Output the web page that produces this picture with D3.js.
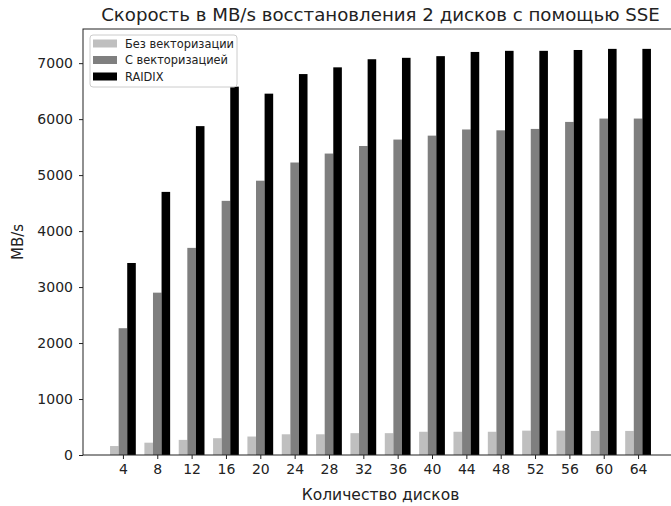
<!DOCTYPE html>
<html>
<head>
<meta charset="utf-8">
<script src="https://cdn.jsdelivr.net/npm/d3@7"></script>
<style>
  html, body { margin: 0; padding: 0; background: #fff; }
  svg { display: block; }
  text { font-family: "DejaVu Sans", sans-serif; fill: #222; }
</style>
</head>
<body>
<svg id="chart" width="671" height="506"></svg>
<script>
// Disk counts on the x axis
const disks = [4, 8, 12, 16, 20, 24, 28, 32, 36, 40, 44, 48, 52, 56, 60, 64];
// Recovery speed, MB/s
const noVector = [160, 220, 270, 300, 330, 370, 370, 390, 390, 415, 415, 415, 435, 435, 430, 430];
const withVector = [2265, 2900, 3700, 4540, 4900, 5225, 5385, 5520, 5635, 5705, 5815, 5800, 5825, 5950, 6010, 6010];
const raidix = [3430, 4700, 5875, 6580, 6455, 6805, 6925, 7070, 7095, 7125, 7200, 7220, 7220, 7235, 7255, 7255];
const yTicks = [0, 1000, 2000, 3000, 4000, 5000, 6000, 7000];

const seriesNames = ["Без векторизации", "С векторизацией", "RAIDIX"];
const seriesColors = ["#bfbfbf", "#7f7f7f", "#000000"];
const seriesValues = [noVector, withVector, raidix];
const seriesOffsets = [-1, 0, 1];

const titleText = "Скорость в MB/s восстановления 2 дисков с помощью SSE";
const xLabel = "Количество дисков";
const yLabel = "MB/s";

const svg = d3.select("#chart");
const plotLeft = 83, plotRight = 678, plotTop = 29, plotBottom = 455;

const x = d3.scaleLinear().domain([-0.65, 68.65]).range([plotLeft, plotRight]);
const y = d3.scaleLinear().domain([0, 7610]).range([plotBottom, plotTop]);

// bars: three per disk count, each one unit wide
seriesValues.forEach((vals, si) => {
  svg.append("g")
    .selectAll("rect")
    .data(disks.map((d, i) => ({ d, v: vals[i] })))
    .join("rect")
    .attr("x", p => x(p.d + seriesOffsets[si] - 0.5))
    .attr("width", p => x(p.d + seriesOffsets[si] + 0.5) - x(p.d + seriesOffsets[si] - 0.5))
    .attr("y", p => y(p.v))
    .attr("height", p => y(0) - y(p.v))
    .attr("fill", seriesColors[si]);
});

// frame
svg.append("rect")
  .attr("x", plotLeft).attr("y", plotTop)
  .attr("width", plotRight - plotLeft).attr("height", plotBottom - plotTop)
  .attr("fill", "none").attr("stroke", "#222").attr("stroke-width", 1);

// axes
const xAxis = svg.append("g")
  .attr("transform", `translate(0,${plotBottom})`)
  .call(d3.axisBottom(x).tickValues(disks).tickSize(4).tickPadding(5));
const yAxis = svg.append("g")
  .attr("transform", `translate(${plotLeft},0)`)
  .call(d3.axisLeft(y).tickValues(yTicks).tickFormat(d3.format("d")).tickSize(4).tickPadding(6));
[xAxis, yAxis].forEach(a => {
  a.select(".domain").remove();
  a.selectAll(".tick line").attr("stroke", "#222");
  a.selectAll(".tick text").attr("font-size", 14).attr("font-family", "DejaVu Sans, sans-serif").attr("fill", "#222");
});

// title and axis labels
svg.append("text")
  .attr("x", (plotLeft + plotRight) / 2).attr("y", 21)
  .attr("text-anchor", "middle").attr("font-size", 18.2)
  .text(titleText);
svg.append("text")
  .attr("x", (plotLeft + plotRight) / 2).attr("y", 500)
  .attr("text-anchor", "middle").attr("font-size", 15.5)
  .text(xLabel);
svg.append("text")
  .attr("transform", `translate(23,${(plotTop + plotBottom) / 2}) rotate(-90)`)
  .attr("text-anchor", "middle").attr("font-size", 15)
  .text(yLabel);

// legend
const lg = svg.append("g");
lg.append("rect")
  .attr("x", 90).attr("y", 35).attr("width", 147).attr("height", 52)
  .attr("rx", 3).attr("fill", "#fff").attr("fill-opacity", 0.8)
  .attr("stroke", "#ccc").attr("stroke-width", 1);
seriesNames.forEach((name, i) => {
  const cy = 43.5 + i * 16.5;
  lg.append("rect")
    .attr("x", 93).attr("y", cy - 4).attr("width", 24).attr("height", 8)
    .attr("fill", seriesColors[i]);
  lg.append("text")
    .attr("x", 125).attr("y", cy + 4)
    .attr("font-size", 11.4)
    .text(name);
});
</script>
</body>
</html>
